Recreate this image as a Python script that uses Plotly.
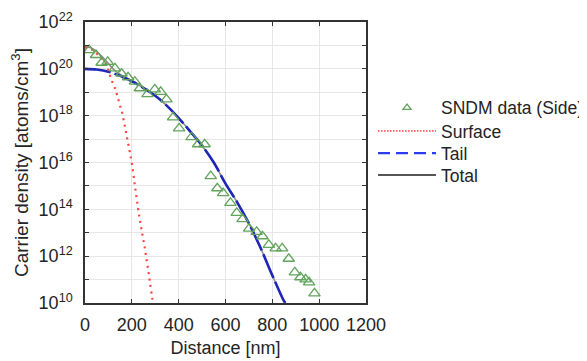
import plotly.graph_objects as go

# SNDM data (Side): distance [nm], carrier density exponent (log10)
sndm_x = [18, 47, 71, 97, 128, 156, 184, 213, 234, 267, 298, 323, 348, 376, 402,
          455, 483, 511, 537, 565, 590, 621, 648, 673, 701, 733, 758, 785, 814,
          842, 870, 896, 920, 942, 957, 980]
sndm_log = [20.80, 20.59, 20.26, 20.30, 20.02, 19.80, 19.64, 19.45, 19.17, 18.92,
            19.12, 19.02, 18.70, 17.93, 17.46, 17.08, 16.78, 16.78, 15.42, 14.90,
            14.69, 14.28, 13.85, 13.58, 13.18, 13.04, 12.85, 12.48, 12.33, 12.33,
            11.89, 11.31, 11.10, 11.01, 10.88, 10.41]

# Surface component
surf_x = [0, 27, 55, 88, 102, 116, 130, 137, 149, 159, 170, 181, 192, 202, 213,
          225, 234, 243, 253, 261, 270, 278, 287, 291]
surf_log = [20.92, 20.83, 20.6, 20.23, 19.85, 19.45, 19.12, 18.88, 18.45, 18.11,
            17.55, 16.98, 16.41, 15.84, 15.02, 14.15, 13.57, 13.04, 12.5, 11.98,
            11.4, 10.83, 10.22, 10.0]

# Tail component
tail_x = [0, 50, 100, 150, 200, 250, 300, 350, 400, 450, 500, 550, 600, 650, 700,
          750, 800, 850, 856]
tail_log = [20.00, 19.97, 19.88, 19.70, 19.47, 19.18, 18.85, 18.42, 17.90, 17.32,
            16.72, 16.00, 15.10, 14.30, 13.40, 12.35, 11.18, 10.08, 10.0]

# Total
total_x = [0, 25, 50, 75, 100, 125, 150, 200, 250, 300, 350, 400, 450, 500, 550,
           600, 650, 700, 750, 800, 850, 856]
total_log = [20.96, 20.90, 20.74, 20.50, 20.22, 19.95, 19.76, 19.50, 19.18, 18.85,
             18.42, 17.90, 17.32, 16.72, 16.00, 15.10, 14.30, 13.40, 12.35, 11.18,
             10.08, 10.0]

x_ticks = [0, 200, 400, 600, 800, 1000, 1200]
y_major_exp = [10, 12, 14, 16, 18, 20, 22]
y_minor_exp = [11, 13, 15, 17, 19, 21]

font = "Liberation Sans, Arial, sans-serif"
txt = "#242424"


def pw(vals):
    return [10.0 ** float(v) for v in vals]


fig = go.Figure()

fig.add_trace(go.Scatter(
    x=total_x, y=pw(total_log), mode="lines",
    line=dict(color="#8c8c8c", width=1.6, shape="spline"),
    name="Total", showlegend=False))
fig.add_trace(go.Scatter(
    x=tail_x, y=pw(tail_log), mode="lines",
    line=dict(color="#1f26b8", width=2.6, dash="26px,4px", shape="spline"),
    name="Tail", showlegend=False))
fig.add_trace(go.Scatter(
    x=surf_x, y=pw(surf_log), mode="lines",
    line=dict(color="#ff4040", width=2.2, dash="2px,4.5px", shape="spline"),
    name="Surface", showlegend=False))
fig.add_trace(go.Scatter(
    x=sndm_x, y=pw(sndm_log), mode="markers",
    marker=dict(symbol="triangle-up-open", size=10, color="#62a45c",
                line=dict(width=1.3, color="#62a45c")),
    name="SNDM data (Side)", showlegend=False))

# legend-only entries (styles as shown in the reference legend)
fig.add_trace(go.Scatter(
    x=[None], y=[None], mode="markers",
    marker=dict(symbol="triangle-up-open", size=7, color="#62a45c",
                line=dict(width=1.3, color="#62a45c")),
    name="SNDM data (Side)", legend="legend", showlegend=True))
fig.add_trace(go.Scatter(
    x=[None], y=[None], mode="lines",
    line=dict(color="#ff5a5a", width=1.6, dash="1.5px,1.5px"),
    name="Surface", legend="legend2", showlegend=True))
fig.add_trace(go.Scatter(
    x=[None], y=[None], mode="lines",
    line=dict(color="#2b3cf0", width=2.4, dash="12px,6px"),
    name="Tail", legend="legend3", showlegend=True))
fig.add_trace(go.Scatter(
    x=[None], y=[None], mode="lines",
    line=dict(color="#555555", width=2),
    name="Total", legend="legend4", showlegend=True))

leg_common = dict(x=1.025, xanchor="left", yanchor="middle",
                  font=dict(family=font, size=17.5, color=txt),
                  bgcolor="rgba(0,0,0,0)", itemwidth=58, tracegroupgap=0)

# the page has an 8px body margin; figure is sized so it fits in the window
fig.update_layout(
    width=579, height=353,
    margin=dict(l=77, r=221, t=14, b=58, autoexpand=False),
    paper_bgcolor="white", plot_bgcolor="white",
    showlegend=True,
    font=dict(family=font, size=18, color=txt),
    legend=dict(y=0.695, **leg_common),
    legend2=dict(y=0.612, **leg_common),
    legend3=dict(y=0.533, **leg_common),
    legend4=dict(y=0.4555, **leg_common),
    xaxis=dict(
        range=[0, 1200], tickvals=x_ticks, ticktext=[str(v) for v in x_ticks],
        automargin=False,
        showgrid=True, gridcolor="#e6e6e6", gridwidth=1,
        showline=True, linecolor="#333333", linewidth=1.5, mirror="allticks",
        ticks="inside", ticklen=4, tickcolor="#333333",
        zeroline=False, ticklabelstandoff=5,
        tickfont=dict(family=font, size=18, color=txt),
        title=dict(text="Distance [nm]", font=dict(family=font, size=18, color=txt),
                   standoff=7)),
    yaxis=dict(
        type="log", range=[10, 22], automargin=False,
        tickvals=pw(y_major_exp),
        ticktext=["10<sup>%d</sup>" % e for e in y_major_exp],
        showgrid=True, gridcolor="#e6e6e6", gridwidth=1,
        showline=True, linecolor="#333333", linewidth=1.5, mirror="allticks",
        ticks="inside", ticklen=4, tickcolor="#333333",
        minor=dict(tickvals=pw(y_minor_exp), showgrid=True,
                   gridcolor="#e6e6e6", ticks="inside", ticklen=4, tickcolor="#333333"),
        zeroline=False, ticklabelstandoff=7,
        tickfont=dict(family=font, size=18, color=txt),
        title=dict(text="Carrier density [atoms/cm<sup>3</sup>]",
                   font=dict(family=font, size=19, color=txt), standoff=5)),
)

fig.write_html("out.html")
